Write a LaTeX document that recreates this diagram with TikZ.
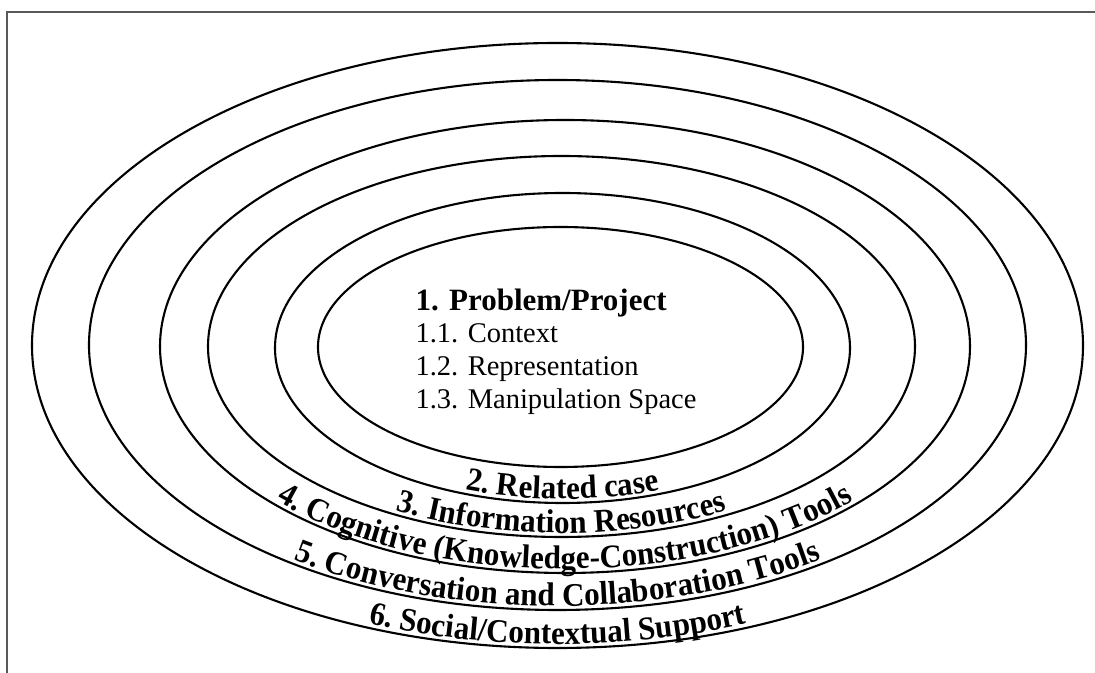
\documentclass[tikz,border=0pt]{standalone}
\usepackage{fontspec}
\setmainfont{Liberation Serif}
\newfontfamily\ringfont[FakeStretch=0.94]{Liberation Serif}
\usepackage{tikz}
\usetikzlibrary{decorations.text}

\newcommand{\ringlabel}{\ringfont\bfseries\fontsize{33}{33}\selectfont}

\tikzset{
  ring/.style={line width=2.1pt},
  ringtext/.style={decorate, decoration={text along path, text align=center, text={#1}}},
  itemtext/.style={anchor=base west, font=\fontsize{28.5}{28.5}\selectfont}
}

\begin{document}
\begin{tikzpicture}[x=1pt, y=1pt]
\useasboundingbox (0,0) rectangle (1095,672);

% frame (runs off the page on the right and bottom)
\draw[gray!70!black, line width=1.4pt] (7,-5) |- (1100,660);

% the six rings, innermost first
\draw[ring] (560.5,325) ellipse [x radius=242.5, y radius=120];
\draw[ring] (562.5,324) ellipse [x radius=287.5, y radius=155];
\draw[ring] (561.5,325.5) ellipse [x radius=353.5, y radius=190.5];
\draw[ring] (565,325.5) ellipse [x radius=405, y radius=226.5];
\draw[ring] (557.5,327) ellipse [x radius=468.5, y radius=265];
\draw[ring] (557.5,326.5) ellipse [x radius=525.5, y radius=302.5];

% centre: problem / project
\node[anchor=base west, font=\bfseries\fontsize{31}{31}\selectfont] (problem) at (412,361) {1. Problem/Project};
\node[itemtext] (context) at (412,329) {1.1. Context};
\node[itemtext] (repr) at (412,296) {1.2. Representation};
\node[itemtext] (manip) at (412,263) {1.3. Manipulation Space};

% ring labels, set along the lower half of each ring
\path[ringtext={|\ringlabel|2. Related case}]
  (562.5,324) ++(-283,0) arc[start angle=180, end angle=360, x radius=283, y radius=151];
\path[ringtext={|\ringlabel|3. Information Resources}]
  (561.5,325.5) ++(-349,0) arc[start angle=180, end angle=360, x radius=349, y radius=186.5];
\path[ringtext={|\ringlabel|4. Cognitive (Knowledge-Construction) Tools}]
  (565,325.5) ++(-400.5,0) arc[start angle=180, end angle=360, x radius=400.5, y radius=222.5];
\path[ringtext={|\ringlabel|5. Conversation and Collaboration Tools}]
  (557.5,327) ++(-464,0) arc[start angle=180, end angle=360, x radius=464, y radius=261];
\path[ringtext={|\ringlabel|6. Social/Contextual Support}]
  (557.5,326.5) ++(-521,0) arc[start angle=180, end angle=360, x radius=521, y radius=298.5];
\end{tikzpicture}
\end{document}
